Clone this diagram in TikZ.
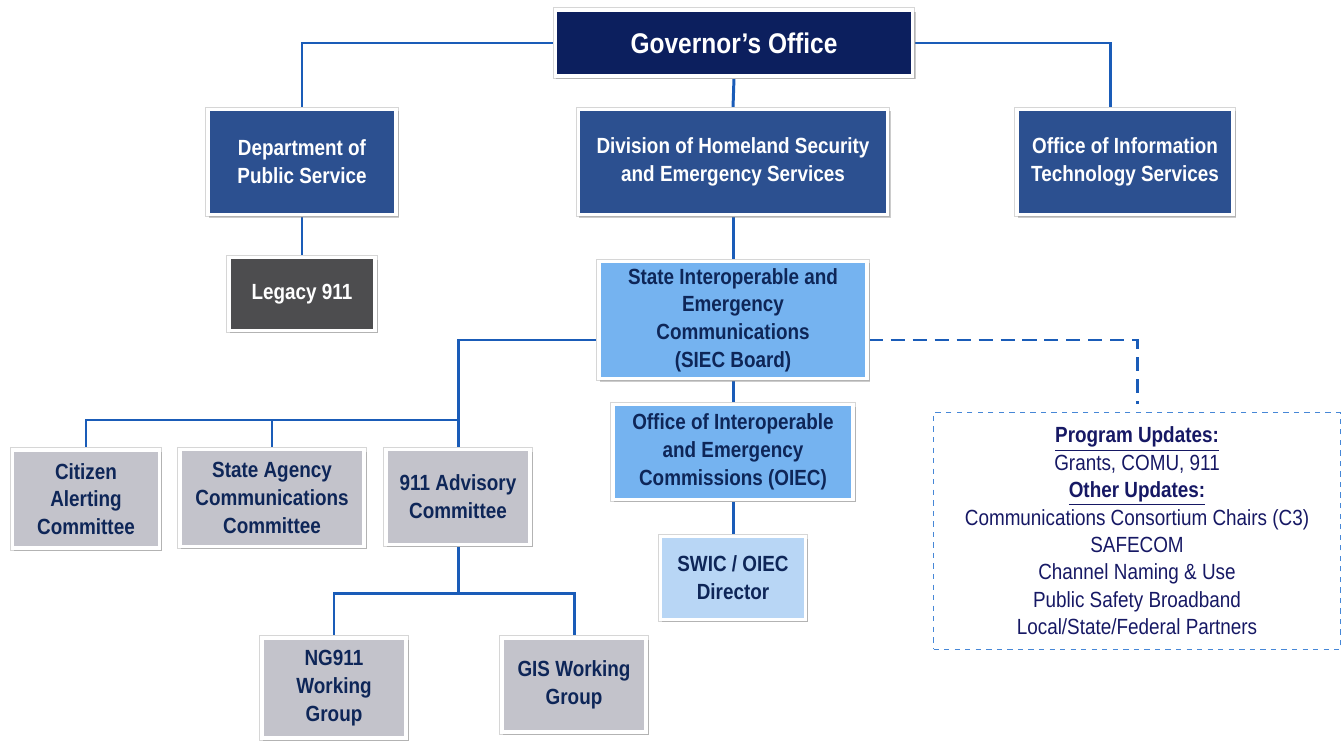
\documentclass[tikz,border=0pt]{standalone}
\usepackage{fontspec}
\setmainfont{Liberation Sans}[FakeStretch=0.86]
\usetikzlibrary{shadows,backgrounds}

\definecolor{govnavy}{RGB}{12,31,94}
\definecolor{deptblue}{RGB}{44,80,144}
\definecolor{legacygray}{RGB}{77,77,79}
\definecolor{boardblue}{RGB}{117,179,240}
\definecolor{dirblue}{RGB}{184,214,245}
\definecolor{cmtgray}{RGB}{195,195,203}
\definecolor{linkblue}{RGB}{26,92,184}
\definecolor{textnavy}{RGB}{14,38,88}
\definecolor{updblue}{RGB}{70,135,215}
\definecolor{updtext}{RGB}{22,24,100}

\tikzset{
  org/.style={draw=white, line width=2pt, align=center, inner sep=0pt,
    font=\fontsize{12.5}{15.8}\selectfont\bfseries,
    preaction={draw=black!16, line width=3.4pt},
    drop shadow={opacity=0.4, shadow xshift=1.2pt, shadow yshift=-1.4pt, shadow scale=1.01}},
  dark/.style={org, text=white},
  light/.style={org, text=textnavy},
  link/.style={draw=linkblue, line width=1.7pt},
}

\begin{document}
\begin{tikzpicture}[x=0.02cm, y=-0.02cm]
\useasboundingbox (0,0) rectangle (1341,740);

% top level
\node (gov) [dark, fill=govnavy, minimum width=7.14cm, minimum height=1.32cm,
  font=\fontsize{16.2}{18}\selectfont\bfseries] at (734,43) {Governor’s Office};
\node (dps) [dark, fill=deptblue, minimum width=3.76cm, minimum height=2.1cm] at (302,162) {Department of\\Public Service};
\node (dhses) [dark, fill=deptblue, minimum width=6.18cm, minimum height=2.1cm] at (733,162) {Division of Homeland Security\\and Emergency Services};
\node (its) [dark, fill=deptblue, minimum width=4.32cm, minimum height=2.1cm] at (1125,162) {Office of Information\\Technology Services};
\node (leg) [dark, fill=legacygray, minimum width=2.92cm, minimum height=1.46cm] at (302,294) {Legacy 911};

% board and office
\node (siec) [light, fill=boardblue, minimum width=5.36cm, minimum height=2.34cm] at (733,320) {State Interoperable and\\Emergency\\Communications\\(SIEC Board)};
\node (oiec) [light, fill=boardblue, minimum width=4.8cm, minimum height=1.9cm] at (733,452) {Office of Interoperable\\and Emergency\\Commissions (OIEC)};
\node (swic) [light, fill=dirblue, minimum width=2.9cm, minimum height=1.66cm] at (733,578) {SWIC / OIEC\\Director};

% committees
\node (cac) [light, fill=cmtgray, minimum width=2.94cm, minimum height=1.96cm] at (86,499) {Citizen\\Alerting\\Committee};
\node (sacc) [light, fill=cmtgray, minimum width=3.68cm, minimum height=1.94cm] at (272,498) {State Agency\\Communications\\Committee};
\node (adv) [light, fill=cmtgray, minimum width=2.88cm, minimum height=1.9cm] at (458,497) {911 Advisory\\Committee};
\node (ng) [light, fill=cmtgray, minimum width=2.88cm, minimum height=2.0cm] at (334,688) {NG911\\Working\\Group};
\node (gis) [light, fill=cmtgray, minimum width=2.88cm, minimum height=1.88cm] at (574,685) {GIS Working\\Group};

% updates
\node (upd) [draw=updblue, dashed, line width=0.6pt, minimum width=8.14cm, minimum height=4.74cm,
  align=center, text=updtext, font=\fontsize{12.5}{15.6}\selectfont] at (1137,531)
  {\textbf{\underline{Program Updates:}}\\Grants, COMU, 911\\\textbf{\underline{Other Updates:}}\\
   Communications Consortium Chairs (C3)\\SAFECOM\\Channel Naming \& Use\\
   Public Safety Broadband\\Local/State/Federal Partners};

\coordinate (fork) at (458,420);
\coordinate (wg) at (458,593);

\begin{scope}[on background layer]
\draw[link] (gov.west) -| (dps.north);
\draw[link] (gov.east) -| ([xshift=-0.3cm]its.north);
\draw[link] (gov.south) -- (dhses.north);
\draw[link] (dps.south) -- (leg.north);
\draw[link] (dhses.south) -- (siec.north);
\draw[link] ([yshift=-0.4cm]siec.west) -| (fork);
\draw[link] (cac.north) |- (fork) -- (adv.north);
\draw[link] (sacc.north) -- (sacc.north |- fork);
\draw[link] (siec.south) -- (oiec.north);
\draw[link] (oiec.south) -- (swic.north);
\draw[link] (adv.south) -- (wg);
\draw[link] (ng.north) |- (wg) -| (gis.north);
\draw[link, dash pattern=on 8pt off 4.5pt] ([yshift=-0.4cm]siec.east) -| ([yshift=0.16cm]upd.north);
\end{scope}
\end{tikzpicture}
\end{document}
